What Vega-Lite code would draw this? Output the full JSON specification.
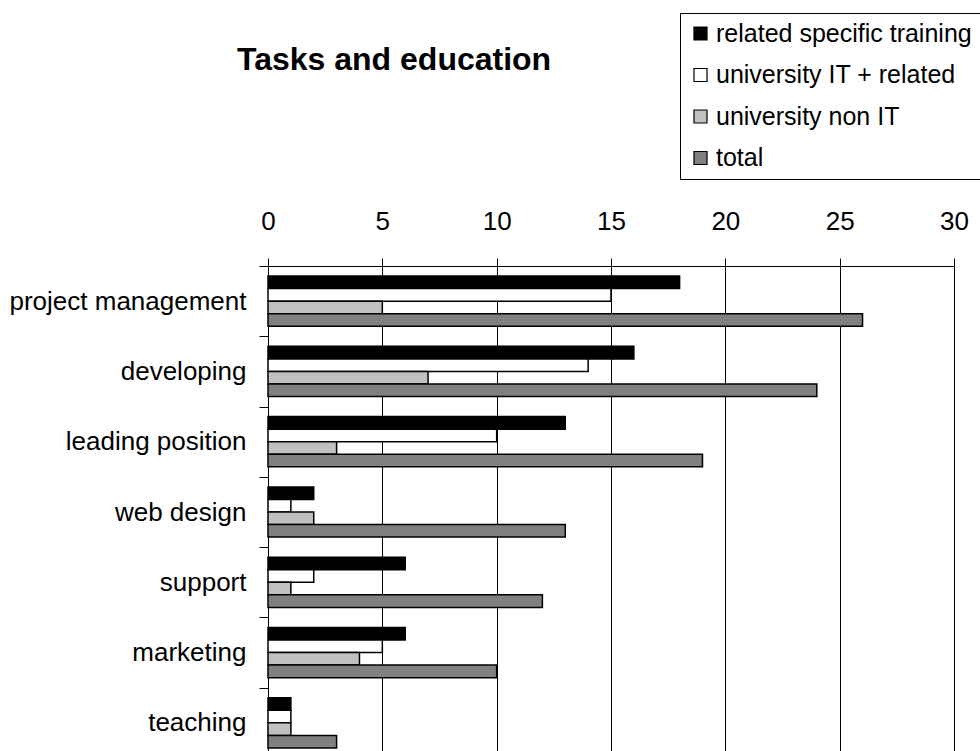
{
  "$schema": "https://vega.github.io/schema/vega-lite/v6.json",
  "autosize": {"type": "none"},
  "padding": {"left": 268, "top": 266, "right": 26, "bottom": 0},
  "width": 686,
  "height": 492,
  "background": "white",
  "title": {
    "text": "Tasks and education",
    "anchor": "start",
    "frame": "group",
    "dx": -31,
    "baseline": "alphabetic",
    "offset": -89,
    "font": "Liberation Sans",
    "fontSize": 32,
    "fontWeight": "bold",
    "color": "black"
  },
  "config": {
    "view": {"stroke": null},
    "font": "Liberation Sans"
  },
  "data": {
    "values": [
      {"task": "project management", "series": "related specific training", "value": 18},
      {"task": "project management", "series": "university IT + related", "value": 15},
      {"task": "project management", "series": "university non IT", "value": 5},
      {"task": "project management", "series": "total", "value": 26},
      {"task": "developing", "series": "related specific training", "value": 16},
      {"task": "developing", "series": "university IT + related", "value": 14},
      {"task": "developing", "series": "university non IT", "value": 7},
      {"task": "developing", "series": "total", "value": 24},
      {"task": "leading position", "series": "related specific training", "value": 13},
      {"task": "leading position", "series": "university IT + related", "value": 10},
      {"task": "leading position", "series": "university non IT", "value": 3},
      {"task": "leading position", "series": "total", "value": 19},
      {"task": "web design", "series": "related specific training", "value": 2},
      {"task": "web design", "series": "university IT + related", "value": 1},
      {"task": "web design", "series": "university non IT", "value": 2},
      {"task": "web design", "series": "total", "value": 13},
      {"task": "support", "series": "related specific training", "value": 6},
      {"task": "support", "series": "university IT + related", "value": 2},
      {"task": "support", "series": "university non IT", "value": 1},
      {"task": "support", "series": "total", "value": 12},
      {"task": "marketing", "series": "related specific training", "value": 6},
      {"task": "marketing", "series": "university IT + related", "value": 5},
      {"task": "marketing", "series": "university non IT", "value": 4},
      {"task": "marketing", "series": "total", "value": 10},
      {"task": "teaching", "series": "related specific training", "value": 1},
      {"task": "teaching", "series": "university IT + related", "value": 1},
      {"task": "teaching", "series": "university non IT", "value": 1},
      {"task": "teaching", "series": "total", "value": 3}
    ]
  },
  "mark": {"type": "bar", "stroke": "black", "strokeWidth": 1.5},
  "encoding": {
    "y": {
      "field": "task",
      "type": "nominal",
      "sort": ["project management", "developing", "leading position", "web design", "support", "marketing", "teaching"],
      "scale": {"paddingInner": 0, "paddingOuter": 0},
      "axis": {
        "title": null,
        "tickBand": "extent",
        "tickSize": 9,
        "tickColor": "black",
        "domainColor": "black",
        "labelFont": "Liberation Sans",
        "labelFontSize": 26,
        "labelColor": "black",
        "labelPadding": 13,
        "labelLimit": 400
      }
    },
    "yOffset": {
      "field": "series",
      "type": "nominal",
      "sort": ["related specific training", "university IT + related", "university non IT", "total"],
      "scale": {"paddingInner": 0, "paddingOuter": 0.8}
    },
    "x": {
      "field": "value",
      "type": "quantitative",
      "scale": {"domain": [0, 30], "nice": false},
      "axis": {
        "orient": "top",
        "title": null,
        "values": [0, 5, 10, 15, 20, 25, 30],
        "grid": true,
        "gridColor": "black",
        "gridWidth": 1,
        "tickSize": 8,
        "tickColor": "black",
        "domainColor": "black",
        "labelFont": "Liberation Sans",
        "labelFontSize": 26,
        "labelColor": "black",
        "labelPadding": 24,
        "labelFlush": false
      }
    },
    "fill": {
      "field": "series",
      "type": "nominal",
      "sort": ["related specific training", "university IT + related", "university non IT", "total"],
      "scale": {
        "domain": ["related specific training", "university IT + related", "university non IT", "total"],
        "range": ["#000000", "#ffffff", "#c0c0c0", "#808080"]
      },
      "legend": {
        "orient": "none",
        "legendX": 412,
        "legendY": -253,
        "title": null,
        "strokeColor": "black",
        "fillColor": "white",
        "padding": 8,
        "symbolType": "square",
        "symbolSize": 170,
        "symbolStrokeColor": "black",
        "symbolStrokeWidth": 1.2,
        "labelFont": "Liberation Sans",
        "labelFontSize": 25,
        "labelColor": "black",
        "labelOffset": 3,
        "rowPadding": 15.5,
        "labelLimit": 400
      }
    }
  }
}
